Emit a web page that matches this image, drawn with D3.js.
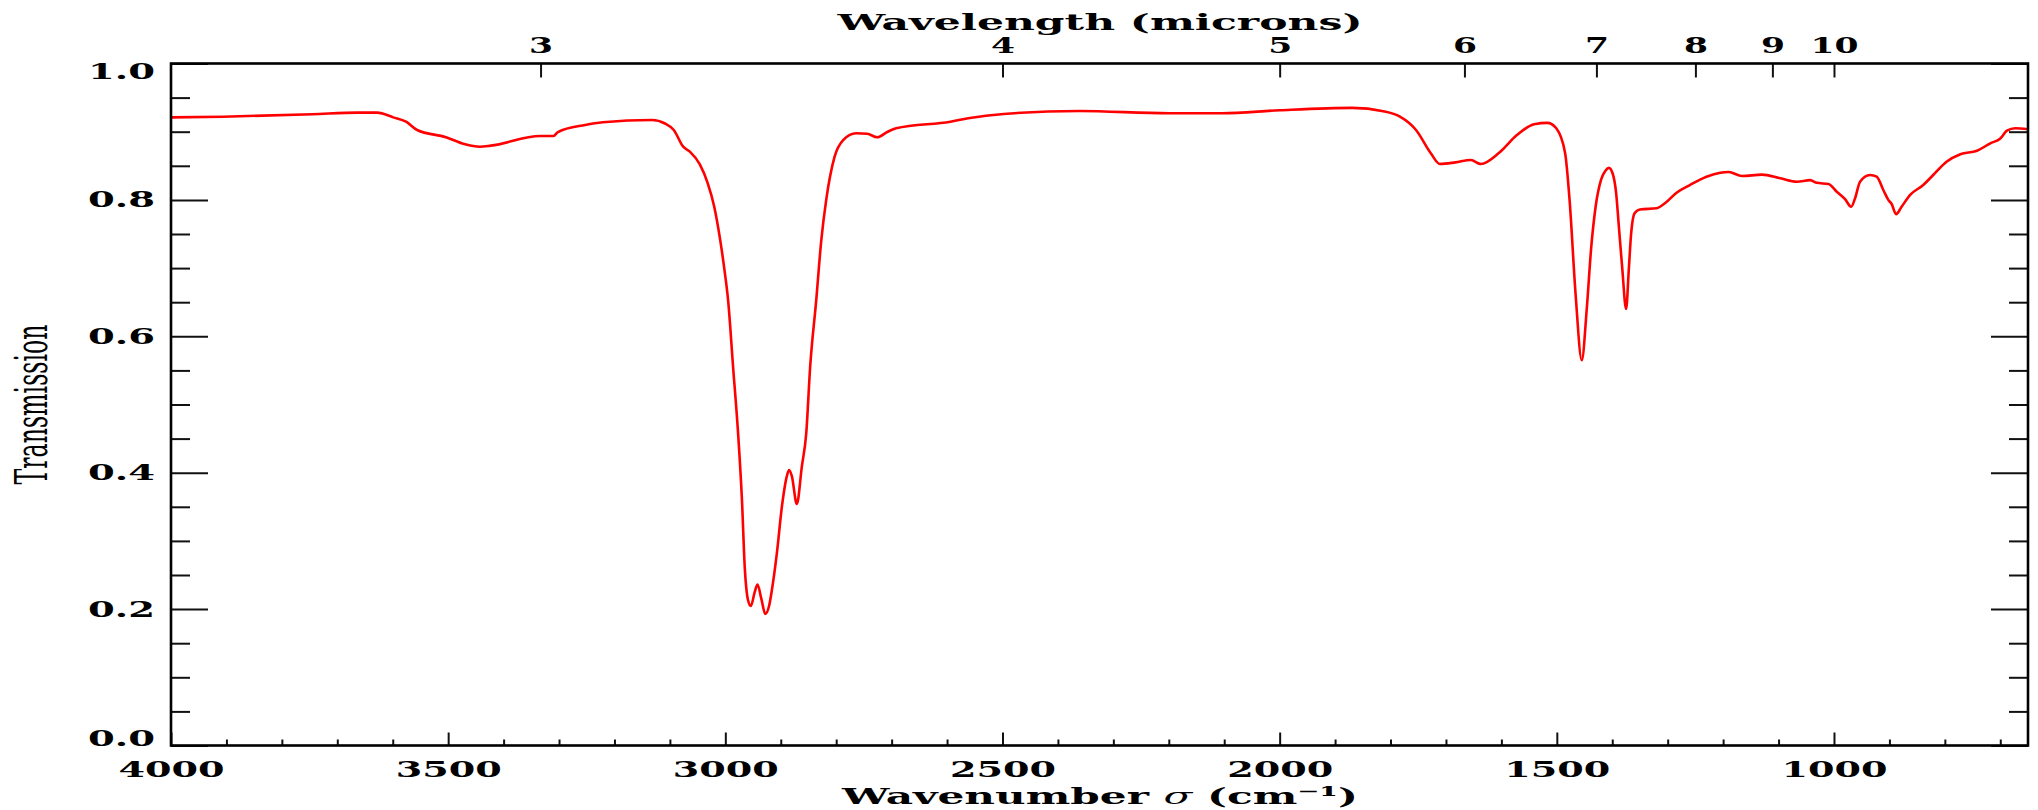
<!DOCTYPE html>
<html>
<head>
<meta charset="utf-8">
<title>IR transmission spectrum</title>
<script src="https://d3js.org/d3.v7.min.js"></script>
<style>
  body { margin: 0; background: #fff; }
  svg { display: block; background: #fff; }
  svg text { font-family: "DejaVu Serif", serif; font-weight: bold; fill: #000; }
</style>
</head>
<body>
<svg id="chart" width="2038" height="810"></svg>
<script>

// spectrum: wavenumber (cm-1) and transmission
var wavenumber = [4000, 3906, 3745, 3664, 3628, 3599, 3576, 3556, 3504, 3471,
  3443, 3423, 3334, 3310, 3302, 3253, 3221, 3132, 3109, 3093,
  3076, 3064, 3046, 3032, 3020, 3010, 3002, 2995, 2986, 2977,
  2970, 2965, 2959, 2954, 2947, 2942, 2935, 2928, 2921, 2916,
  2907, 2898, 2889, 2885, 2880, 2871, 2862, 2854, 2847, 2836,
  2827, 2818, 2803, 2787, 2764, 2744, 2726, 2707, 2692, 2594,
  2562, 2498, 2361, 2200, 2104, 2000, 1869, 1813, 1783, 1754,
  1727, 1711, 1683, 1655, 1637, 1604, 1572, 1541, 1517, 1501,
  1485, 1477, 1466, 1455, 1446, 1438, 1430, 1420, 1412, 1406,
  1399, 1393, 1388, 1382, 1375, 1370, 1366, 1360, 1350, 1320,
  1305, 1284, 1260, 1230, 1205, 1190, 1166, 1130, 1097, 1067,
  1043, 1031, 1010, 995, 980, 969, 962, 953, 935, 923,
  911, 902, 896, 888, 878, 863, 839, 821, 797, 772,
  742, 718, 700, 688, 673, 650];

var transmission = [0.921, 0.922, 0.9255, 0.928, 0.928, 0.921, 0.9147, 0.9025, 0.892, 0.882,
  0.878, 0.8796, 0.8937, 0.8937, 0.8995, 0.9098, 0.9138, 0.9172, 0.912, 0.9025,
  0.878, 0.8707, 0.852, 0.825, 0.79, 0.745, 0.70, 0.653, 0.555, 0.458,
  0.36, 0.262, 0.213, 0.2045, 0.225, 0.236, 0.215, 0.193, 0.205, 0.228,
  0.282, 0.35, 0.395, 0.404, 0.395, 0.354, 0.409, 0.458, 0.555, 0.653,
  0.74, 0.80, 0.863, 0.888, 0.8977, 0.897, 0.8918, 0.90, 0.905, 0.9147,
  0.9196, 0.926, 0.9304, 0.927, 0.927, 0.9315, 0.935, 0.93, 0.922, 0.9025,
  0.868, 0.8526, 0.855, 0.8585, 0.8526, 0.869, 0.895, 0.911, 0.913, 0.905,
  0.8685, 0.80, 0.66, 0.565, 0.64, 0.73, 0.79, 0.83, 0.843, 0.847,
  0.838, 0.81, 0.76, 0.70, 0.64, 0.70, 0.75, 0.78, 0.786, 0.7877,
  0.795, 0.8106, 0.8218, 0.834, 0.8399, 0.841, 0.835, 0.837, 0.8317, 0.8267,
  0.829, 0.825, 0.8233, 0.812, 0.801, 0.79, 0.8023, 0.8267, 0.8365, 0.834,
  0.8145, 0.80, 0.794, 0.779, 0.79, 0.807, 0.8218, 0.8365, 0.856, 0.867,
  0.872, 0.883, 0.89, 0.9015, 0.905, 0.9035];

var xMajorTicks = [4000, 3500, 3000, 2500, 2000, 1500, 1000];
var xMinorTicks = d3.range(3900, 650, -100).filter(function(d) { return d % 500 != 0; });
var yMajorTicks = [0, 0.2, 0.4, 0.6, 0.8, 1.0];
var yMinorTicks = [0.05, 0.1, 0.15, 0.25, 0.3, 0.35, 0.45, 0.5, 0.55, 0.65, 0.7, 0.75, 0.85, 0.9, 0.95];
var wavelengthTicks = [3, 4, 5, 6, 7, 8, 9, 10];

var svg = d3.select("#chart");

var x = d3.scaleLinear().domain([4000, 650]).range([171, 2028]);
var y = d3.scaleLinear().domain([0, 1]).range([745.5, 63.5]);

var data = wavenumber.map(function(d, i) { return [d, transmission[i]]; });

// the trace
var line = d3.line()
  .x(function(d) { return x(d[0]); })
  .y(function(d) { return y(d[1]); })
  .curve(d3.curveMonotoneX);

svg.append("path")
  .datum(data)
  .attr("d", line)
  .attr("fill", "none")
  .attr("stroke", "#ff0000")
  .attr("stroke-width", 2.6)
  .attr("stroke-linejoin", "round");

function styleTicks(g) {
  g.select(".domain").remove();
  g.selectAll(".tick line").attr("stroke", "#111").attr("stroke-width", 2);
}

// bottom axis
svg.append("g")
  .attr("transform", "translate(0," + y(0) + ")")
  .call(d3.axisBottom(x).tickValues(xMinorTicks).tickSize(-6).tickSizeOuter(0).tickFormat(""))
  .call(styleTicks);

svg.append("g")
  .attr("transform", "translate(0," + y(0) + ")")
  .call(d3.axisBottom(x).tickValues(xMajorTicks).tickSize(-13).tickSizeOuter(0).tickPadding(16).tickFormat(d3.format("d")))
  .call(styleTicks)
  .selectAll("text")
  .style("font-size", "22px")
  .attr("textLength", 106)
  .attr("lengthAdjust", "spacingAndGlyphs");

// top axis in wavelength
svg.append("g")
  .attr("transform", "translate(0," + y(1) + ")")
  .call(d3.axisTop(x)
    .tickValues(wavelengthTicks.map(function(l) { return 10000 / l; }))
    .tickSize(-14).tickSizeOuter(0).tickPadding(11)
    .tickFormat(function(d) { return Math.round(10000 / d); }))
  .call(styleTicks)
  .selectAll("text")
  .style("font-size", "22px")
  .attr("textLength", function() { return this.textContent.length * 24; })
  .attr("lengthAdjust", "spacingAndGlyphs");

// left axis
svg.append("g")
  .attr("transform", "translate(" + x(4000) + ",0)")
  .call(d3.axisLeft(y).tickValues(yMinorTicks).tickSize(-19).tickSizeOuter(0).tickFormat(""))
  .call(styleTicks);

svg.append("g")
  .attr("transform", "translate(" + x(4000) + ",0)")
  .call(d3.axisLeft(y).tickValues(yMajorTicks).tickSize(-37).tickSizeOuter(0).tickPadding(16).tickFormat(d3.format(".1f")))
  .call(styleTicks)
  .selectAll("text")
  .style("font-size", "22px")
  .attr("dy", function(d) { return d == 0 ? "0" : (d == 1 ? "0.68em" : "0.32em"); })
  .attr("textLength", 67)
  .attr("lengthAdjust", "spacingAndGlyphs");

// right axis, ticks only
svg.append("g")
  .attr("transform", "translate(" + x(650) + ",0)")
  .call(d3.axisRight(y).tickValues(yMinorTicks).tickSize(-19).tickSizeOuter(0).tickFormat(""))
  .call(styleTicks);

svg.append("g")
  .attr("transform", "translate(" + x(650) + ",0)")
  .call(d3.axisRight(y).tickValues(yMajorTicks).tickSize(-37).tickSizeOuter(0).tickFormat(""))
  .call(styleTicks);

// frame
svg.append("rect")
  .attr("x", x(4000))
  .attr("y", y(1))
  .attr("width", x(650) - x(4000))
  .attr("height", y(0) - y(1))
  .attr("fill", "none")
  .attr("stroke", "#000")
  .attr("stroke-width", 2.6);

// titles
svg.append("text")
  .attr("x", 1100)
  .attr("y", 30)
  .attr("text-anchor", "middle")
  .style("font-size", "23px")
  .attr("textLength", 525)
  .attr("lengthAdjust", "spacingAndGlyphs")
  .text("Wavelength (microns)");

var xt = svg.append("text")
  .attr("x", 1100)
  .attr("y", 804)
  .attr("text-anchor", "middle")
  .style("font-size", "23px")
  .attr("textLength", 516)
  .attr("lengthAdjust", "spacingAndGlyphs");
xt.append("tspan").text("Wavenumber ");
xt.append("tspan").style("font-style", "italic").style("font-weight", "normal").text("σ");
xt.append("tspan").text(" (cm⁻¹)");

svg.append("text")
  .attr("transform", "translate(47," + ((y(0) + y(1)) / 2) + ") rotate(-90)")
  .attr("text-anchor", "middle")
  .style("font-size", "44px")
  .style("font-weight", "normal")
  .attr("textLength", 160)
  .attr("lengthAdjust", "spacingAndGlyphs")
  .text("Transmission");

</script>
</body>
</html>
